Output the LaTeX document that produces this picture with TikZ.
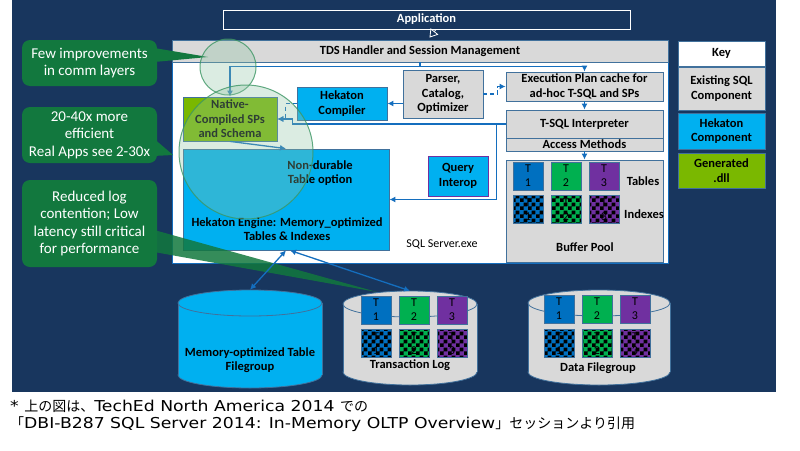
\documentclass[tikz,border=0pt]{standalone}
\usepackage{fontspec}
\setmainfont{Carlito}
\newfontfamily\jpfont{Noto Sans CJK JP}
\newfontfamily\latfont[FakeStretch=1.15]{DejaVu Sans}
\newcommand{\jp}[1]{{\jpfont\fontsize{14}{17}\selectfont #1}}
\newcommand{\lat}[1]{{\latfont\fontsize{15}{17}\selectfont #1}}
\usetikzlibrary{arrows.meta,patterns,calc}
\definecolor{navy}{RGB}{24,54,94}
\definecolor{boxgrey}{RGB}{217,217,217}
\definecolor{hekcyan}{RGB}{0,176,240}
\definecolor{dllgreen}{RGB}{122,184,0}
\definecolor{edge}{RGB}{65,113,156}
\definecolor{wireblue}{RGB}{20,110,190}
\definecolor{callgreen}{RGB}{18,120,62}
\definecolor{ringfill}{RGB}{145,196,165}
\definecolor{ringedge}{RGB}{60,150,100}
\definecolor{tone}{RGB}{0,112,192}
\definecolor{ttwo}{RGB}{0,176,80}
\definecolor{tthree}{RGB}{112,48,160}
\pgfdeclarepatternformonly{checks}{\pgfpointorigin}{\pgfqpoint{8pt}{8pt}}{\pgfqpoint{8pt}{8pt}}{%
  \pgfpathrectangle{\pgfpointorigin}{\pgfqpoint{4pt}{4pt}}%
  \pgfpathrectangle{\pgfqpoint{4pt}{4pt}}{\pgfqpoint{4pt}{4pt}}%
  \pgfusepath{fill}}

\begin{document}
\begin{tikzpicture}[x=1pt, y=-1pt, font=\bfseries\fontsize{12.5}{14.5}\selectfont,
  comp/.style={draw=edge, line width=0.8pt, align=center, inner sep=0pt},
  sql/.style={comp, fill=boxgrey},
  hek/.style={comp, fill=hekcyan},
  dll/.style={comp, fill=dllgreen},
  lbl/.style={align=center, inner sep=0pt},
  tcell/.style={draw=edge, minimum width=30pt, minimum height=28pt, inner sep=0pt, align=center,
    font=\fontsize{12}{14}\selectfont},
  icell/.style={tcell, pattern=checks, pattern color=black},
  wire/.style={draw=wireblue, line width=1.3pt, -{Latex[length=6pt,width=6pt]}},
  twoway/.style={wire, {Latex[length=6pt,width=6pt]}-{Latex[length=6pt,width=6pt]}},
  note/.style={fill=callgreen, rounded corners=8pt, text=white, align=center, inner sep=0pt,
    minimum width=135pt, font=\fontsize{15}{17.5}\selectfont},
  ring/.style={circle, draw=ringedge, line width=1pt, fill=ringfill, fill opacity=0.32,
    draw opacity=0.8, inner sep=0pt}]
\useasboundingbox (0,0) rectangle (800,450);
\fill[navy] (12,0) rectangle (776,392);
\node[draw=white, line width=1pt, fill=navy, text=white, minimum width=407pt, minimum height=19pt,
  inner sep=0pt] (app) at (426.5,19.5) {Application};
\node[draw=wireblue, line width=1pt, fill=white, minimum width=496pt, minimum height=223pt,
  inner sep=0pt] (sqlexe) at (420,151.5) {};
\node[sql, minimum width=496pt, minimum height=22pt] (tds) at (420,51) {TDS Handler and Session Management};
\node[comp, fill=white, minimum width=87pt, minimum height=25pt] (key) at (721.5,53.5) {Key};
\node[sql, minimum width=87pt, minimum height=43pt] (keysql) at (721.5,88.5) {Existing SQL\\Component};
\node[hek, minimum width=87pt, minimum height=36pt] (keyhek) at (721.5,131) {Hekaton\\Component};
\node[dll, minimum width=87pt, minimum height=35pt] (keydll) at (721.5,170.5) {Generated\\.dll};
\node[sql, minimum width=80pt, minimum height=48pt] (parser) at (443,94) {Parser,\\Catalog,\\Optimizer};
\node[sql, minimum width=157pt, minimum height=29pt] (plan) at (584.5,86.5) {Execution Plan cache for\\ad-hoc T-SQL and SPs};
\node[sql, minimum width=157pt, minimum height=28pt] (tsql) at (584.5,124) {T-SQL Interpreter};
\node[sql, minimum width=157pt, minimum height=13pt] (access) at (584.5,144.5) {Access Methods};
\node[sql, minimum width=157pt, minimum height=102pt] (bpool) at (584.5,211) {};
\node[lbl] (bplbl) at (585,247) {Buffer Pool};
\node[lbl] (tbllbl) at (643,181) {Tables};
\node[lbl] (idxlbl) at (644,214) {Indexes};
\node[hek, minimum width=90pt, minimum height=33pt] (hcomp) at (342,103.5) {Hekaton\\Compiler};
\node[dll, minimum width=94pt, minimum height=44pt] (native) at (230,119) {Native-\\Compiled SPs\\and Schema};
\node[hek, minimum width=206pt, minimum height=101pt] (engine) at (286,199.5) {};
\node[lbl] (nondur) at (320,173) {Non-durable\\Table option};
\node[lbl] (englbl) at (287,229) {Hekaton Engine: Memory\_optimized\\Tables \& Indexes};
\node[hek, draw=tthree, minimum width=60pt, minimum height=40pt] (interop) at (458,176) {Query\\Interop};
\node[lbl, font=\fontsize{12}{14}\selectfont] (exe) at (442,244) {SQL Server.exe};
\draw[white, line width=0.8pt, -{Triangle[open,length=8pt,width=10pt]}] ([xshift=9.5pt]app.south) -- ([xshift=9.5pt,yshift=2pt]tds.north);
\draw[wire] (tds.south) -- ++(0,4) -| (native.north);
\draw[wire] (tds.south) -- ++(0,4) -| (plan.north);
\draw[wire] (parser.west |- hcomp.east) -- (hcomp.east);
\draw[wire, dash pattern=on 4pt off 3pt] (hcomp.west) -- ++(-11,0) |- (native.east);
\draw[wire] (tsql.west) -- ($(tsql.west -| native.east)+(15,0)$) |- (native.east);
\draw[wire] (tsql.west) -- ++(-9,0) |- (engine.east);
\draw[wire, dash pattern=on 4pt off 3pt] (parser.east) -- ++(14,0) |- (plan.west);
\draw[wire] (plan.south) -- (tsql.north);
\draw[wire] (access.south) -- (bpool.north);
\draw[wire] (native.south) -- (engine.north);
\node[note, minimum height=46pt] (note1) at (89.5,63) {Few improvements\\in comm layers};
\node[note, minimum height=56pt] (note2) at (89.5,135) {20-40x more\\efficient\\Real Apps see 2-30x};
\node[note, minimum height=87pt] (note3) at (89.5,223.5) {Reduced log\\contention; Low\\latency still critical\\for performance};
\coordinate (tip1) at (208,57);
\coordinate (tip2) at (173,155);
\coordinate (tip3) at (377,292);
\fill[callgreen] ([xshift=-3pt,yshift=15pt]note1.east) -- (tip1) -- ([xshift=-3pt,yshift=1pt]note1.east) -- cycle;
\fill[callgreen] ([xshift=-4pt,yshift=-3pt]note2.east) -- (tip2) -- ([xshift=-4pt,yshift=-21pt]note2.east) -- cycle;
\fill[callgreen, fill opacity=0.85] ([xshift=-3pt,yshift=-6.5pt]note3.east) -- (tip3) -- ([xshift=-3pt,yshift=-28.5pt]note3.east) -- cycle;
\newcommand{\drum}[6]{%
  \filldraw[fill=#6, draw=edge, line width=0.8pt] (#2,#5) ellipse[x radius=#3pt, y radius=13pt];
  \fill[#6] (#2-#3,#4) rectangle (#2+#3,#5);
  \draw[edge, line width=0.8pt] (#2-#3,#4) -- (#2-#3,#5) (#2+#3,#4) -- (#2+#3,#5);
  \filldraw[fill=#6, draw=edge, line width=0.8pt] (#2,#4) ellipse[x radius=#3pt, y radius=13pt];
  \node[minimum width=2*#3pt, minimum height=(#5-#4+26)*1pt, inner sep=0pt] (#1) at (#2,#4/2+#5/2) {};}
\newcommand{\tset}[4]{\foreach \c [count=\i] in {tone,ttwo,tthree}{
  \node[tcell, fill=\c] (#1t\i) at (#2+38*\i-23,#3+14) {T\\\i};
  \node[icell, preaction={fill=\c}] (#1x\i) at (#2+38*\i-23,#4+14.5) {T\\\i};}}
\drum{memfg}{250}{72}{303}{375}{hekcyan}
\drum{tlog}{410}{67}{304}{372}{boxgrey}
\drum{datafg}{599}{71}{303}{372}{boxgrey}
\tset{bp}{513}{162}{195}
\tset{tl}{361}{296}{329}
\tset{df}{544}{295}{329}
\node[lbl] (memlbl) at (250,360) {Memory-optimized Table\\Filegroup};
\node[lbl] (tloglbl) at (410,365) {Transaction Log};
\node[lbl] (datalbl) at (598,368) {Data Filegroup};
\draw[twoway] (engine.south) -- (memfg.north);
\draw[twoway] ([xshift=4pt]engine.south) -- (tlog.north);
\node[ring, minimum size=56pt] (ring1) at (228,67) {};
\node[ring, minimum size=134pt] (ring2) at (246,152) {};
\node[anchor=west, inner sep=0pt, align=left, font=\fontsize{15}{17}\selectfont] (credit) at (10,415.5)
  {\lat{* }\jp{上の図は、}\lat{TechEd North America 2014 }\jp{での}\\\jp{「}\lat{DBI-B287 SQL Server 2014: In-Memory OLTP Overview}\jp{」セッションより引用}};
\end{tikzpicture}
\end{document}
